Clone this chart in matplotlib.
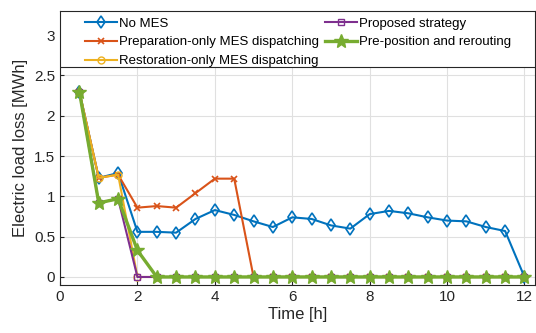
import matplotlib.pyplot as plt
from matplotlib.patches import Rectangle

plt.rcParams['font.family'] = ['Liberation Sans', 'DejaVu Sans']

hours = [0.5, 1, 1.5, 2, 2.5, 3, 3.5, 4, 4.5, 5, 5.5, 6,
         6.5, 7, 7.5, 8, 8.5, 9, 9.5, 10, 10.5, 11, 11.5, 12]

no_mes = [2.30, 1.23, 1.29, 0.56, 0.56, 0.55, 0.72, 0.83, 0.77, 0.69, 0.62, 0.74,
          0.72, 0.64, 0.60, 0.78, 0.82, 0.79, 0.74, 0.70, 0.69, 0.62, 0.57, 0.0]
prep_only = [2.30, 1.23, 1.27, 0.86, 0.88, 0.86, 1.04, 1.22, 1.22, 0.0, 0.0, 0.0,
             0.0, 0.0, 0.0, 0.0, 0.0, 0.0, 0.0, 0.0, 0.0, 0.0, 0.0, 0.0]
rest_only = [2.30, 1.23, 1.27, 0.0, 0.0, 0.0, 0.0, 0.0, 0.0, 0.0, 0.0, 0.0,
             0.0, 0.0, 0.0, 0.0, 0.0, 0.0, 0.0, 0.0, 0.0, 0.0, 0.0, 0.0]
proposed = [2.30, 0.92, 0.97, 0.0, 0.0, 0.0, 0.0, 0.0, 0.0, 0.0, 0.0, 0.0,
            0.0, 0.0, 0.0, 0.0, 0.0, 0.0, 0.0, 0.0, 0.0, 0.0, 0.0, 0.0]
prepos_reroute = [2.30, 0.92, 0.97, 0.33, 0.0, 0.0, 0.0, 0.0, 0.0, 0.0, 0.0, 0.0,
                  0.0, 0.0, 0.0, 0.0, 0.0, 0.0, 0.0, 0.0, 0.0, 0.0, 0.0, 0.0]

fig = plt.figure(figsize=(5.36, 3.33), dpi=100)
ax = fig.add_axes([0.112, 0.144, 0.886, 0.823])

ax.plot(hours, no_mes, color='#0072BD', lw=1.5, marker='d', ms=6,
        mfc='none', mew=1.2, label='No MES')
ax.plot(hours, prep_only, color='#D95319', lw=1.5, marker='x', ms=4,
        mew=1.2, label='Preparation-only MES dispatching')
ax.plot(hours, rest_only, color='#EDB120', lw=1.5, marker='o', ms=5,
        mfc='none', mew=1.0, label='Restoration-only MES dispatching')
ax.plot(hours, proposed, color='#7E2F8E', lw=1.5, marker='s', ms=5,
        mfc='none', mew=1.0, label='Proposed strategy')
ax.plot(hours, prepos_reroute, color='#77AC30', lw=2.4, marker='*', ms=10,
        label='Pre-position and rerouting')

ax.set_xlim(0, 12.27)
ax.set_ylim(-0.1, 3.3)
ax.set_xticks([0, 2, 4, 6, 8, 10, 12])
ax.set_yticks([0, 0.5, 1, 1.5, 2, 2.5, 3])
ax.set_yticklabels(['0', '0.5', '1', '1.5', '2', '2.5', '3'])
ax.tick_params(direction='in', labelsize=11, colors='#262626', length=3)
ax.grid(True, color='#e0e0e0', lw=0.8)
for s in ax.spines.values():
    s.set_color('#262626')
    s.set_linewidth(0.8)

ax.set_xlabel('Time [h]', fontsize=12, color='#262626', labelpad=2)
ax.set_ylabel('Electric load loss [MWh]', fontsize=12, color='#262626', labelpad=4)

# legend box covering the top of the axes
box = Rectangle((0, 0.795), 1, 0.205, transform=ax.transAxes,
                facecolor='white', edgecolor='#262626', lw=0.8, zorder=4)
ax.add_patch(box)

leg = ax.legend(loc='upper left', bbox_to_anchor=(0.053, 0.977),
                ncol=2, fontsize=9.5, frameon=False, borderaxespad=0,
                borderpad=0, handlelength=2.4, handletextpad=0.15,
                labelspacing=0.5, columnspacing=0.5)
leg.set_zorder(5)

fig.savefig('out.png', dpi=100)
